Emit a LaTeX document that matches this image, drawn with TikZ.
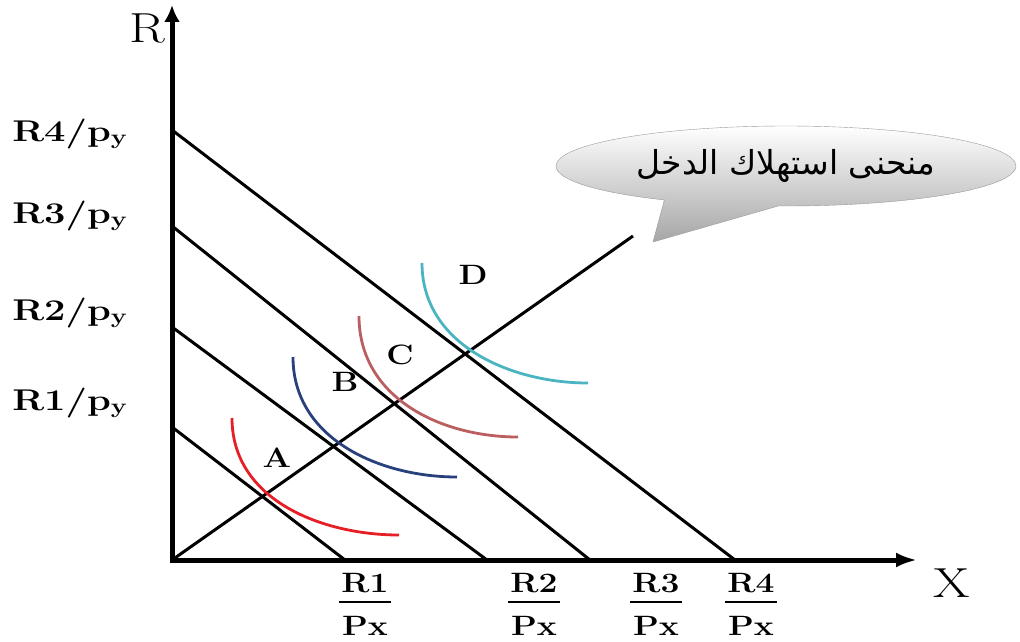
\documentclass[tikz,border=0pt]{standalone}
\usepackage{fontspec}
\usetikzlibrary{arrows.meta,shapes.callouts}
\TeXXeTstate=1
\newfontfamily\arabicfont[Script=Arabic]{DejaVu Sans}
\definecolor{iccRed}{RGB}{232, 30, 38}
\definecolor{iccBlue}{RGB}{40, 64, 124}
\definecolor{iccBrown}{RGB}{186, 94, 96}
\definecolor{iccCyan}{RGB}{74, 180, 192}
\newcommand{\pxfrac}[1]{#1\\[-21pt]\rule{43pt}{2pt}\\Px}

\begin{document}
\begin{tikzpicture}[
  x=1pt, y=-1pt,
  axis/.style={line width=5pt, {Latex[length=17pt,width=16pt]}-{Latex[length=21pt,width=15pt]}},
  budget/.style={line width=3pt},
  indiff/.style={line width=2.8pt},
  tag/.style={font=\bfseries\fontsize{28}{32}\selectfont, inner sep=0pt, xscale=1.2},
  ytag/.style={font=\bfseries\fontsize{30}{34}\selectfont, inner sep=0pt, xscale=1.27, anchor=base west},
  axlbl/.style={font=\fontsize{42}{46}\selectfont, inner sep=0pt, xscale=1.25},
  bubble/.style={
    ellipse callout,
    draw=gray!80,
    top color=white,
    bottom color=black!35,
    minimum width=460pt,
    minimum height=80pt,
    callout pointer arc=30,
    font=\arabicfont\fontsize{33}{38}\selectfont
  }
]
  \useasboundingbox (0,0) rectangle (1020,642);

  % budget lines
  \coordinate (y1) at (172,427); \coordinate (x1) at (345,560);
  \coordinate (y2) at (172,327); \coordinate (x2) at (487,560);
  \coordinate (y3) at (172,226); \coordinate (x3) at (590,560);
  \coordinate (y4) at (172,130); \coordinate (x4) at (735,560);
  \draw[budget] (y1) -- (x1);
  \draw[budget] (y2) -- (x2);
  \draw[budget] (y3) -- (x3);
  \draw[budget] (y4) -- (x4);

  % axes
  \coordinate (O) at (172,560);
  \coordinate (ytop) at (172,5);
  \coordinate (xend) at (917,560);
  \draw[axis] (ytop) -- (O) -- (xend);
  \node[axlbl] (R) at (147,28) {R};
  \node[axlbl] (X) at (952,583) {X};

  % income consumption curve
  \coordinate (iccEnd) at (633,236);
  \draw[budget] (O) -- (iccEnd);

  % indifference curves
  \coordinate (uA) at (232,418); \coordinate (vA) at (399,535);
  \coordinate (uB) at (293,357); \coordinate (vB) at (457,477);
  \coordinate (uC) at (359,316); \coordinate (vC) at (518,437);
  \coordinate (uD) at (422,263); \coordinate (vD) at (588,383);
  \draw[indiff,iccRed] (uA) .. controls +(0,82) and +(-77,0) .. (vA);
  \draw[indiff,iccBlue] (uB) .. controls +(0,82) and +(-77,0) .. (vB);
  \draw[indiff,iccBrown] (uC) .. controls +(0,82) and +(-77,0) .. (vC);
  \draw[indiff,iccCyan] (uD) .. controls +(0,82) and +(-77,0) .. (vD);

  \node[tag] (A) at (277,458) {A};
  \node[tag] (B) at (345,382) {B};
  \node[tag] (C) at (400,355) {C};
  \node[tag] (D) at (473,275) {D};

  % intercepts on the R axis
  \node[ytag] (lblR4) at (12,141) {R4/p\textsubscript{y}};
  \node[ytag] (lblR3) at (12,223) {R3/p\textsubscript{y}};
  \node[ytag] (lblR2) at (12,320) {R2/p\textsubscript{y}};
  \node[ytag] (lblR1) at (12,410) {R1/p\textsubscript{y}};

  % intercepts on the X axis
  \node[tag,anchor=north,align=center] (fracR1) at (365,573) {\pxfrac{R1}};
  \node[tag,anchor=north,align=center] (fracR2) at (534,573) {\pxfrac{R2}};
  \node[tag,anchor=north,align=center] (fracR3) at (656,573) {\pxfrac{R3}};
  \node[tag,anchor=north,align=center] (fracR4) at (751,573) {\pxfrac{R4}};

  \node[bubble,callout absolute pointer={(653,242)}] (note) at (786,166)
    {\beginR منحنى استهلاك الدخل\endR};
\end{tikzpicture}
\end{document}
